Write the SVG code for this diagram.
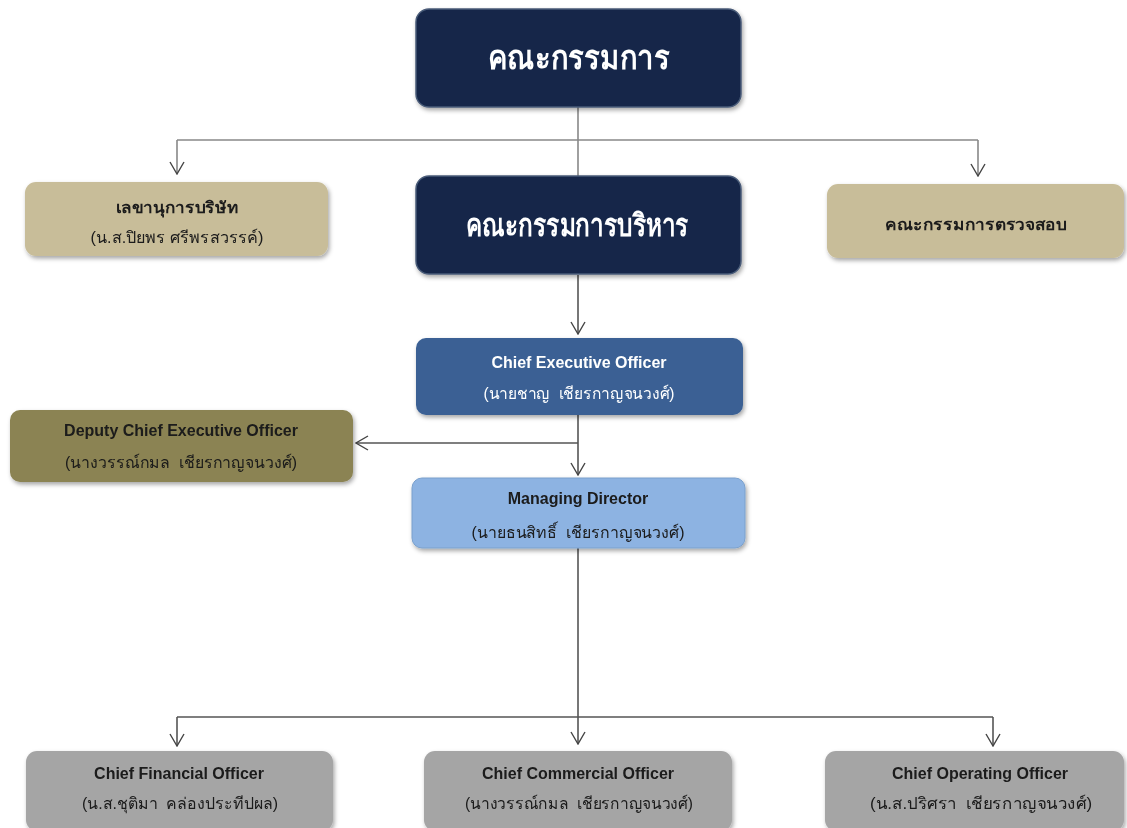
<svg xmlns="http://www.w3.org/2000/svg" width="1127" height="828" viewBox="0 0 1127 828">
<defs>
<filter id="sh" x="-10%" y="-10%" width="125%" height="135%">
<feDropShadow dx="1.5" dy="2.5" stdDeviation="2" flood-color="#000" flood-opacity="0.35"/>
</filter>
<marker id="ah" markerUnits="userSpaceOnUse" markerWidth="14" markerHeight="16" viewBox="0 0 14 16" refX="13" refY="8" orient="auto">
<path d="M1,1 L13,8 L1,15" fill="none" stroke="#444" stroke-width="1.4"/>
</marker>
</defs>
<style>
.navy{fill:#13264a;stroke:#4a5b78;stroke-width:1.5}
.tan{fill:#c8bd99}
.olive{fill:#8b8352}
.ceo{fill:#3b6194}
.md{fill:#8db3e2;stroke:#7aa0cc;stroke-width:1}
.gray{fill:#a5a5a5}
.big{font-family:"Liberation Sans","Noto Sans",sans-serif;font-weight:bold;fill:#fff;text-anchor:middle}
.t{font-family:"Liberation Sans","Noto Sans",sans-serif;font-size:16px;text-anchor:middle;white-space:pre}
.b{font-weight:bold}
.w{fill:#fff}
.k{fill:#1a1a1a}
.c{fill:none;stroke:#555;stroke-width:1.6}
.cl{fill:none;stroke:#888;stroke-width:1.6}
</style>
<rect width="1127" height="828" fill="#fff"/>
<g id="connectors">
<path class="cl" d="M578,106 V176"/>
<path class="cl" d="M177,140 H978"/>
<path class="cl" d="M177,140 V174" marker-end="url(#ah)"/>
<path class="cl" d="M978,140 V176" marker-end="url(#ah)"/>
<path class="c" d="M578,275 V334" marker-end="url(#ah)"/>
<path class="c" d="M578,415 V475" marker-end="url(#ah)"/>
<path class="c" d="M578,443 H356" marker-end="url(#ah)"/>
<path class="c" d="M578,548 V744" marker-end="url(#ah)"/>
<path class="c" d="M177,717 H993"/>
<path class="c" d="M177,717 V746" marker-end="url(#ah)"/>
<path class="c" d="M993,717 V746" marker-end="url(#ah)"/>
</g>
<g id="board" filter="url(#sh)">
<rect class="navy" x="416" y="9" width="325" height="98" rx="13"/>
<text class="big" x="579" y="69" font-size="33" textLength="182" lengthAdjust="spacingAndGlyphs">คณะกรรมการ</text>
</g>
<g id="exec-board" filter="url(#sh)">
<rect class="navy" x="416" y="176" width="325" height="98" rx="13"/>
<text class="big" x="577" y="236" font-size="31" textLength="223" lengthAdjust="spacingAndGlyphs">คณะกรรมการบริหาร</text>
</g>
<g id="secretary" filter="url(#sh)">
<rect class="tan" x="25" y="182" width="303" height="74" rx="11"/>
<text class="t b k" x="177" y="213" textLength="123" lengthAdjust="spacingAndGlyphs">เลขานุการบริษัท</text>
<text class="t k" x="177" y="243" textLength="173" lengthAdjust="spacingAndGlyphs">(น.ส.ปิยพร ศรีพรสวรรค์)</text>
</g>
<g id="audit" filter="url(#sh)">
<rect class="tan" x="827" y="184" width="297" height="74" rx="11"/>
<text class="t b k" x="976" y="230" textLength="182" lengthAdjust="spacingAndGlyphs">คณะกรรมการตรวจสอบ</text>
</g>
<g id="ceo" filter="url(#sh)">
<rect class="ceo" x="416" y="338" width="327" height="77" rx="10"/>
<text class="t b w" x="579" y="368">Chief Executive Officer</text>
<text class="t w" x="579" y="399" textLength="191" lengthAdjust="spacingAndGlyphs">(นายชาญ  เชียรกาญจนวงศ์)</text>
</g>
<g id="dceo" filter="url(#sh)">
<rect class="olive" x="10" y="410" width="343" height="72" rx="10"/>
<text class="t b k" x="181" y="436">Deputy Chief Executive Officer</text>
<text class="t k" x="181" y="468" textLength="232" lengthAdjust="spacingAndGlyphs">(นางวรรณ์กมล  เชียรกาญจนวงศ์)</text>
</g>
<g id="md" filter="url(#sh)">
<rect class="md" x="412" y="478" width="333" height="70" rx="10"/>
<text class="t b k" x="578" y="504">Managing Director</text>
<text class="t k" x="578" y="538" textLength="213" lengthAdjust="spacingAndGlyphs">(นายธนสิทธิ์  เชียรกาญจนวงศ์)</text>
</g>
<g id="cfo" filter="url(#sh)">
<rect class="gray" x="26" y="751" width="307" height="80" rx="11"/>
<text class="t b k" x="179" y="779">Chief Financial Officer</text>
<text class="t k" x="180" y="809" textLength="196" lengthAdjust="spacingAndGlyphs">(น.ส.ชุติมา  คล่องประทีปผล)</text>
</g>
<g id="cco" filter="url(#sh)">
<rect class="gray" x="424" y="751" width="308" height="80" rx="11"/>
<text class="t b k" x="578" y="779">Chief Commercial Officer</text>
<text class="t k" x="579" y="809" textLength="228" lengthAdjust="spacingAndGlyphs">(นางวรรณ์กมล  เชียรกาญจนวงศ์)</text>
</g>
<g id="coo" filter="url(#sh)">
<rect class="gray" x="825" y="751" width="299" height="80" rx="11"/>
<text class="t b k" x="980" y="779">Chief Operating Officer</text>
<text class="t k" x="981" y="809" textLength="222" lengthAdjust="spacingAndGlyphs">(น.ส.ปริศรา  เชียรกาญจนวงศ์)</text>
</g>
</svg>
